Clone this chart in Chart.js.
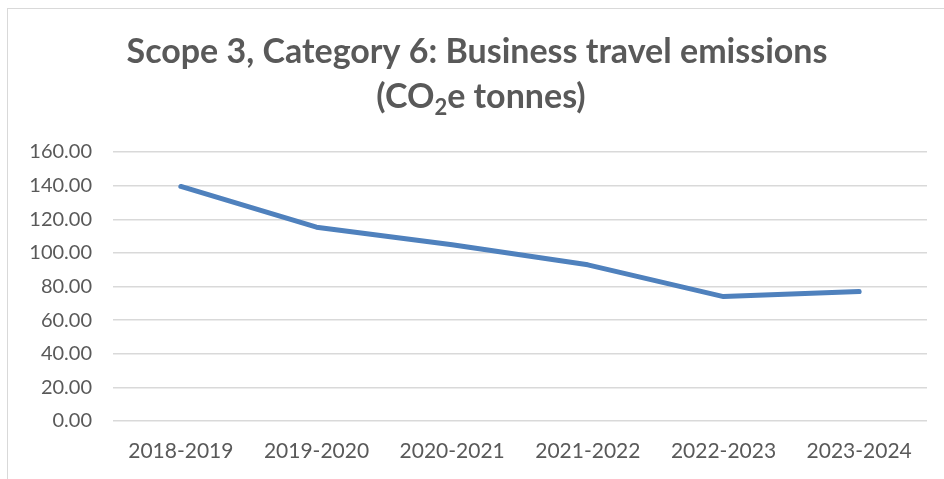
<!DOCTYPE html>
<html>
<head>
<meta charset="utf-8">
<script src="https://cdn.jsdelivr.net/npm/chart.js@4/dist/chart.umd.min.js"></script>
<style>
  html, body { margin: 0; padding: 0; background: #fff; }
  #wrap { position: relative; width: 944px; height: 479px; }
  #frameLeft { position: absolute; left: 7px; top: 8px; width: 1px; height: 471px; background: #d9d9d9; }
  #frameTop { position: absolute; left: 7px; top: 8px; width: 937px; height: 1px; background: #d9d9d9; }
  canvas { position: absolute; left: 0; top: 0; }
</style>
</head>
<body>
<div id="wrap">
  <canvas id="chart" width="944" height="479"></canvas>
  <div id="frameLeft"></div>
  <div id="frameTop"></div>
</div>
<script>
// data
const years = ['2018-2019', '2019-2020', '2020-2021', '2021-2022', '2022-2023', '2023-2024'];
const emissions = [139.5, 115.3, 104.8, 92.9, 74.0, 77.0];
const titleLine1 = 'Scope 3, Category 6: Business travel emissions';
// second line split so the "2" can be drawn as a subscript
const titleLine2 = ['(CO', '2', 'e tonnes)'];

const fontFamily = "Lato, 'Open Sans', sans-serif";
const textGray = '#595959';

// draws the two-line title, with CO2 subscript
const titlePlugin = {
  id: 'excelTitle',
  afterDraw(chart) {
    const c = chart.ctx;
    c.save();
    c.fillStyle = textGray;
    c.textBaseline = 'alphabetic';
    const big = `bold 34px ${fontFamily}`;
    const small = `bold 22px ${fontFamily}`;

    c.font = big;
    c.textAlign = 'center';
    c.fillText(titleLine1, 477, 63);

    c.textAlign = 'left';
    const w0 = c.measureText(titleLine2[0]).width;
    const w2 = c.measureText(titleLine2[2]).width;
    c.font = small;
    const w1 = c.measureText(titleLine2[1]).width;
    let x = 481 - (w0 + w1 + w2) / 2;
    c.font = big;
    c.fillText(titleLine2[0], x, 108);
    x += w0;
    c.font = small;
    c.fillText(titleLine2[1], x, 115);
    x += w1;
    c.font = big;
    c.fillText(titleLine2[2], x, 108);
    c.restore();
  },
};

const ctx = document.getElementById('chart').getContext('2d');
new Chart(ctx, {
  type: 'line',
  data: {
    labels: years,
    datasets: [{
      data: emissions,
      borderColor: '#4F81BD',
      borderWidth: 5,
      borderCapStyle: 'round',
      borderJoinStyle: 'round',
      pointRadius: 0,
      tension: 0,
      fill: false,
    }],
  },
  options: {
    responsive: false,
    animation: false,
    layout: { padding: { top: 152, right: 17, bottom: 0, left: 0 } },
    plugins: {
      legend: { display: false },
      tooltip: { enabled: false },
      title: { display: false },
    },
    scales: {
      x: {
        offset: true,
        grid: { display: false, drawTicks: false },
        border: { display: false },
        ticks: {
          color: textGray,
          font: { family: fontFamily, size: 21 },
          padding: 18,
          maxRotation: 0,
        },
        afterFit: (axis) => { axis.height = 58; },
      },
      y: {
        min: 0,
        max: 160,
        grid: { color: '#d9d9d9', lineWidth: 1.5, drawTicks: false },
        border: { display: false },
        ticks: {
          stepSize: 20,
          color: textGray,
          font: { family: fontFamily, size: 20 },
          padding: 21,
          callback: (v) => Number(v).toFixed(2),
        },
        afterFit: (axis) => { axis.width = 113; },
      },
    },
  },
  plugins: [titlePlugin],
});
</script>
</body>
</html>
